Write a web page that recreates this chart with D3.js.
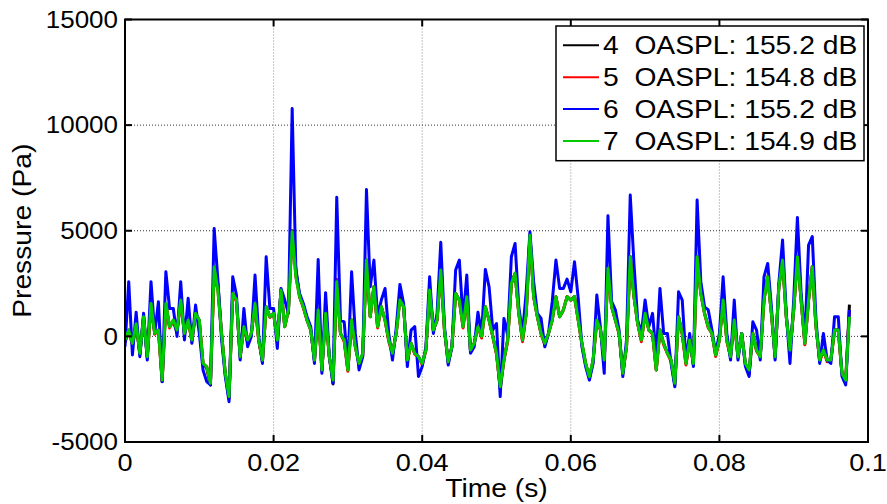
<!DOCTYPE html>
<html>
<head>
<meta charset="utf-8">
<script src="https://cdn.jsdelivr.net/npm/d3@7"></script>
<style>
    body { margin: 0; background: #fff; }
    svg { display: block; }
    text { font-family: "Liberation Sans", Arial, sans-serif; fill: #000; }
</style>
</head>
<body>
<svg id="chart" width="887" height="504"></svg>
<script>
// --- 1. Data (Pa, one sample every 0.5 ms) ---
const sampleStep = 0.0005;

const mic4 = [
    -250, 300, -330, 550, -850, 930, -1000, 1560, 140, 300, -2150, 1500, 460, 700, 200, 1720, 140, 770, -170, 1090,
    770, -1280, -1500, -2300, 3300, 2500, 140, -1750, -2950, 2030, 1720, -960, 460, -300, 140, 1560, -170, -1200, 1400, 930,
    1090, -170, 2190, 460, 1250, 5000, 3200, 1880, 1400, 770, 300, -1150, 1250, -1590, 1090, -960, -2250, 2590, 140, -170,
    -1590, 770, -490, -1350, -800, 3610, 930, 2350, 460, 1400, 770, -170, -800, 140, 1900, 1400, -1120, -330, -800, -960,
    -1280, -650, 2190, 300, 770, 3140, 300, -1200, -490, 2030, 1720, 460, 1880, -650, -330, 460, 0, 1400, 770, 0,
    -800, -2500, -1120, -170, 2510, 2980, 1090, -170, 1090, 4790, 1880, 930, 140, -330, 140, 770, 1880, 930, 1250, 1880,
    1720, 1880, 770, -330, -1280, -1950, -1120, 770, 300, -1120, 3220, 1400, 770, 140, -1750, -490, 3770, 1880, 610, -170,
    1090, 300, 140, -1590, 300, -330, -800, -1120, -2300, 930, 140, -1280, -170, -1280, 3770, 2030, 1090, 460, 140, -880,
    -170, 1720, -170, -960, 770, -960, 140, -1280, -1800, 140, -650, -960, 1720, 2820, 1090, -960, 2350, 3610, 930, -650,
    1250, 3770, 1720, -330, 1720, 3300, 460, -1120, -650, -1120, -1120, 300, 300, -1750, -2150, 1500
];

const mic5 = [
    -300, 250, -400, 600, -800, 900, -960, 1500, 100, 300, -2100, 1560, 400, 770, 300, 1650, 100, 770, -250, 1090,
    700, -1300, -1430, -2220, 3000, 2190, 100, -1800, -2850, 2030, 1650, -1000, 460, -170, 100, 1560, -250, -1120, 1400, 900,
    1090, -250, 2190, 460, 1250, 4950, 2820, 1880, 1350, 770, 300, -1120, 1250, -1650, 1090, -1000, -2070, 2700, 140, -250,
    -1650, 770, -490, -1280, -900, 3610, 930, 2350, 400, 1400, 770, -250, -850, 140, 1720, 1400, -1200, -330, -850, -960,
    -1350, -650, 2300, 300, 770, 3140, 250, -1250, -490, 2030, 1720, 400, 1880, -700, -330, 460, -80, 1400, 770, 0,
    -850, -2380, -1120, -250, 2510, 2980, 1090, -250, 1090, 4790, 1880, 930, 100, -400, 140, 770, 1880, 930, 1250, 1880,
    1720, 1880, 770, -400, -1350, -1910, -1200, 770, 300, -1200, 3220, 1400, 770, 100, -1750, -490, 3770, 1880, 610, -250,
    1090, 300, 100, -1590, 300, -400, -800, -1200, -2220, 930, 100, -1350, -170, -1350, 3770, 2030, 1090, 400, 140, -950,
    -170, 1720, -250, -960, 770, -1000, 140, -1350, -1590, 140, -700, -960, 1720, 2820, 1090, -1000, 2350, 3610, 930, -700,
    1250, 3770, 1720, -400, 1720, 3300, 460, -1200, -650, -1200, -1120, 300, 300, -1800, -2070, 1200
];

const mic6 = [
    -490, 2590, -880, 1140, -960, 1090, -1120, 2590, 140, 1640, -2140, 3060, 1320, 1320, 0, 2590, -170, 1800, -330, 1480,
    140, -1590, -2140, -2300, 5110, 2670, -170, -1900, -3090, 2820, 1960, -1120, 1320, -490, 0, 2900, 0, -1280, 3770, 1320,
    1320, -570, 2270, 1720, 1090, 10790, 3060, 2030, 1560, 930, 460, -1280, 3640, -1750, 2070, -960, -2220, 6580, 770, 690,
    -1430, 3060, 140, -1590, -960, 6950, 2350, 3610, 930, 1720, 2270, 140, -1120, 380, 2460, 1560, -1430, 300, 460, -1900,
    -1430, -490, 2820, 140, 1090, 4450, 460, -1360, -490, 3140, 3610, 770, 2900, -800, -490, 1140, 140, 3170, 2350, 300,
    610, -2850, 850, 60, 3770, 4400, 1400, 140, 2110, 4950, 2590, 1090, 850, -490, 140, 1640, 3610, 2270, 2270, 2710,
    2110, 3530, 1800, -490, -1430, -2070, -1280, 1960, 380, -1750, 5710, 1640, 1250, 300, -1900, -170, 6690, 3450, 770, 140,
    1720, 460, 1090, -960, 2270, 140, 140, -1280, -2380, 2110, 1720, -1120, 140, -1430, 6450, 2590, 1400, 1250, 300, -800,
    140, 2820, 140, -1120, 1720, -1120, 140, -1430, -1900, 690, 300, -1120, 2820, 3450, 1400, -1120, 2510, 4560, 1090, -1280,
    1720, 5630, 2030, -170, 4320, 4720, 770, -1280, 140, -1120, -1280, 930, 930, -1900, -2300, 1250
];

const mic7 = [
    -170, 300, -330, 600, -800, 930, -960, 1560, 140, 300, -2070, 1560, 460, 770, 300, 1720, 140, 770, -170, 1090,
    770, -1280, -1430, -2220, 3300, 2190, 140, -1750, -2850, 2030, 1720, -960, 460, -170, 140, 1560, -170, -1120, 1400, 930,
    1090, -170, 2190, 460, 1250, 4950, 2820, 1880, 1400, 770, 300, -1120, 1250, -1590, 1090, -960, -2070, 2590, 140, -170,
    -1590, 770, -490, -1280, -800, 3610, 930, 2350, 460, 1400, 770, -170, -800, 140, 1720, 1400, -1120, -330, -800, -960,
    -1280, -650, 2190, 300, 770, 3140, 300, -1200, -490, 2030, 1720, 460, 1880, -650, -330, 460, 0, 1400, 770, 0,
    -800, -2380, -1120, -170, 2510, 2980, 1090, -170, 1090, 4790, 1880, 930, 140, -330, 140, 770, 1880, 930, 1250, 1880,
    1720, 1880, 770, -330, -1280, -1910, -1120, 770, 300, -1120, 3220, 1400, 770, 140, -1750, -490, 3770, 1880, 610, -170,
    1090, 300, 140, -1590, 300, -330, -800, -1120, -2220, 930, 140, -1280, -170, -1280, 3770, 2030, 1090, 460, 140, -880,
    -170, 1720, -170, -960, 770, -960, 140, -1280, -1590, 140, -650, -960, 1720, 2820, 1090, -960, 2350, 3610, 930, -650,
    1250, 3770, 1720, -330, 1720, 3300, 460, -1120, -650, -1120, -1120, 300, 300, -1750, -2070, 930
];

const seriesNames = ["4  OASPL: 155.2 dB", "5  OASPL: 154.8 dB", "6  OASPL: 155.2 dB", "7  OASPL: 154.9 dB"];
const seriesColors = ["#000000", "#ff0000", "#0000ff", "#00cc00"];
const seriesData = [mic4, mic5, mic6, mic7];

const xTicks = [0, 0.02, 0.04, 0.06, 0.08, 0.1];
const xTickLabels = ["0", "0.02", "0.04", "0.06", "0.08", "0.1"];
const yTicks = [-5000, 0, 5000, 10000, 15000];
const yTickLabels = ["-5000", "0", "5000", "10000", "15000"];

// --- 2. Layout ---
const plot = { left: 125, right: 868, top: 19.5, bottom: 442 };
const stretch = 1.13;   // the exported figure has slightly wide glyphs
const svg = d3.select("#chart");

const x = d3.scaleLinear().domain([0, 0.1]).range([plot.left, plot.right]);
const y = d3.scaleLinear().domain([-5000, 15000]).range([plot.bottom, plot.top]);

// text helper: anchor point + horizontal stretch
function addText(px, py, str, size, anchor, rotate = 0) {
    return svg.append("text")
        .attr("transform", `translate(${px},${py}) rotate(${rotate}) scale(${stretch},1)`)
        .attr("text-anchor", anchor)
        .attr("font-size", size + "px")
        .style("white-space", "pre")
        .text(str);
}

// --- 3. Grid (dotted) ---
svg.append("g")
    .selectAll("line")
    .data(xTicks.slice(1, -1))
    .join("line")
    .attr("x1", d => x(d)).attr("x2", d => x(d))
    .attr("y1", plot.top).attr("y2", plot.bottom)
    .attr("stroke", "#8a8a8a")
    .attr("stroke-width", 1)
    .attr("stroke-dasharray", "1,2");

svg.append("g")
    .selectAll("line")
    .data(yTicks.slice(1, -1))
    .join("line")
    .attr("x1", plot.left).attr("x2", plot.right)
    .attr("y1", d => y(d)).attr("y2", d => y(d))
    .attr("stroke", "#333")
    .attr("stroke-width", 1)
    .attr("stroke-dasharray", "1,2");

// --- 4. Series ---
svg.append("clipPath").attr("id", "clip")
    .append("rect")
    .attr("x", plot.left).attr("y", plot.top)
    .attr("width", plot.right - plot.left).attr("height", plot.bottom - plot.top);

const line = d3.line()
    .x((d, i) => x(i * sampleStep))
    .y(d => y(d));

svg.append("g")
    .attr("clip-path", "url(#clip)")
    .selectAll("path")
    .data(seriesData)
    .join("path")
    .attr("d", line)
    .attr("fill", "none")
    .attr("stroke", (d, i) => seriesColors[i])
    .attr("stroke-width", 3)
    .attr("stroke-linejoin", "round");

// --- 5. Axes box with inward ticks ---
const tickLen = 7;
const axes = svg.append("g").attr("stroke", "#000").attr("stroke-width", 2);

xTicks.forEach(t => {
    axes.append("line").attr("x1", x(t)).attr("x2", x(t))
        .attr("y1", plot.bottom).attr("y2", plot.bottom - tickLen);
    axes.append("line").attr("x1", x(t)).attr("x2", x(t))
        .attr("y1", plot.top).attr("y2", plot.top + tickLen);
});
yTicks.forEach(v => {
    axes.append("line").attr("x1", plot.left).attr("x2", plot.left + tickLen)
        .attr("y1", y(v)).attr("y2", y(v));
    axes.append("line").attr("x1", plot.right).attr("x2", plot.right - tickLen)
        .attr("y1", y(v)).attr("y2", y(v));
});

axes.append("rect")
    .attr("x", plot.left).attr("y", plot.top)
    .attr("width", plot.right - plot.left).attr("height", plot.bottom - plot.top)
    .attr("fill", "none");

// --- 6. Tick labels & axis titles ---
xTicks.forEach((t, i) => addText(x(t), 470.5, xTickLabels[i], 24, "middle"));
yTicks.forEach((v, i) => addText(plot.left - 7, y(v) + 8.3, yTickLabels[i], 23, "end"));

addText((plot.left + plot.right) / 2, 497, "Time (s)", 25, "middle");
addText(31, (plot.top + plot.bottom) / 2, "Pressure (Pa)", 25, "middle", -90);

// --- 7. Legend ---
const legend = { x: 556, y: 26, w: 308, h: 134.7 };
svg.append("rect")
    .attr("x", legend.x).attr("y", legend.y)
    .attr("width", legend.w).attr("height", legend.h)
    .attr("fill", "#fff")
    .attr("stroke", "#000")
    .attr("stroke-width", 1.5);

seriesNames.forEach((name, i) => {
    const base = 54.3 + i * 31.9;
    svg.append("line")
        .attr("x1", 563).attr("x2", 599)
        .attr("y1", base - 9).attr("y2", base - 9)
        .attr("stroke", seriesColors[i])
        .attr("stroke-width", 2);
    addText(603, base, name, 25, "start");
});
</script>
</body>
</html>
